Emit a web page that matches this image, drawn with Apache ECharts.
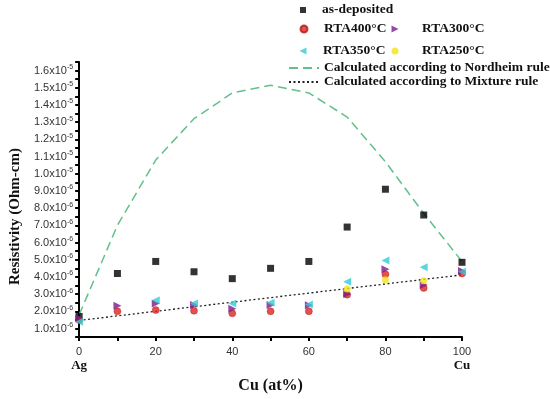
<!DOCTYPE html>
<html><head><meta charset="utf-8">
<script src="https://cdn.jsdelivr.net/npm/echarts@6/dist/echarts.min.js"></script>
<style>html,body{margin:0;padding:0;background:#fff}#c{width:550px;height:399px}</style>
</head><body><div id="c"></div>
<script>
// values in units of 1e-6 Ohm-cm
const cuAt = [0, 10, 20, 30, 40, 50, 60, 70, 80, 90, 100];
const asDeposited = [1.7, 4.2, 4.9, 4.3, 3.9, 4.5, 4.9, 6.9, 9.1, 7.6, 4.85];
const rta400 = [1.5, 2.0, 2.07, 2.03, 1.88, 2.0, 2.0, 2.97, 4.15, 3.36, 4.2];
const rta300 = [1.6, 2.33, 2.46, 2.37, 2.15, 2.37, 2.35, 3.0, 4.45, 3.53, 4.35];
const rta350 = [1.4, null, 2.65, 2.46, 2.46, 2.5, 2.4, 3.72, 4.96, 4.56, 4.3];
const rta250 = [null, null, null, null, null, null, null, 3.3, 3.83, 3.78, null];
const nordheim = [1.8, 7.0, 10.8, 13.2, 14.7, 15.15, 14.7, 13.3, 10.7, 7.7, 4.9];
const mixtureX = [0, 100];
const mixture = [1.47, 4.12];
const yTickLabels = [1,2,3,4,5,6,7,8,9,10,11,12,13,14,15,16];

const pairs = (xs, ys) => xs.map((x, i) => ys[i] == null ? null : [x, ys[i]]).filter(d => d);
const serif = 'Liberation Serif';
const lt = pad => ({fontFamily: serif, fontWeight: 'bold', fontSize: 13.5, color: '#111', lineHeight: 14, padding: [0, 0, 0, pad]});

function yFmt(v) {
  const r = Math.round(v);
  if (Math.abs(v - r) > 0.01 || yTickLabels.indexOf(r) < 0) return '';
  if (r >= 10) return '{n|' + (r / 10).toFixed(1) + 'x10}{s|-5}';
  return '{n|' + r.toFixed(1) + 'x10}{s|-6}';
}

const chart = echarts.init(document.getElementById('c'), null, {renderer: 'canvas'});
chart.setOption({
  animation: false,
  backgroundColor: '#fff',
  grid: {left: 79, right: 88, top: 62, bottom: 53, containLabel: false},
  legend: [
    {left: 300, top: 3, padding: 0, itemWidth: 6, itemHeight: 6, textStyle: lt(11),
     data: [{name: 'as-deposited', icon: 'rect'}]},
    {left: 299.5, top: 22, padding: 0, itemWidth: 7, itemHeight: 7, textStyle: lt(11.5),
     data: [{name: 'RTA400°C', icon: 'circle'}]},
    {left: 391.5, top: 22, padding: 0, itemWidth: 7, itemHeight: 8, textStyle: lt(18.5),
     data: [{name: 'RTA300°C', icon: 'path://M0,0L10,5L0,10Z'}]},
    {left: 299.5, top: 44, padding: 0, itemWidth: 7, itemHeight: 8, textStyle: lt(11.5),
     data: [{name: 'RTA350°C', icon: 'path://M10,0L0,5L10,10Z'}]},
    {left: 391.5, top: 44, padding: 0, itemWidth: 7, itemHeight: 7, textStyle: lt(18.5),
     data: [{name: 'RTA250°C', icon: 'circle'}]},
    {left: 288, top: 61, padding: 0, itemWidth: 30, itemHeight: 12, textStyle: lt(0), orient: 'vertical', itemGap: 0,
     itemStyle: {opacity: 0},
     data: ['Calculated according to Nordheim rule', 'Calculated according to Mixture rule']}
  ],
  xAxis: {
    type: 'value', min: 0, max: 100, interval: 20,
    name: 'Cu (at%)', nameLocation: 'middle', nameGap: 33,
    nameTextStyle: {fontFamily: serif, fontWeight: 'bold', fontSize: 16, color: '#111'},
    axisLine: {lineStyle: {color: '#000', width: 2}},
    axisTick: {show: true, length: 4, lineStyle: {color: '#000', width: 2}},
    minorTick: {show: true, splitNumber: 2, length: 4, lineStyle: {color: '#000', width: 2}},
    splitLine: {show: false},
    axisLabel: {
      margin: 8, fontFamily: 'Liberation Sans', fontSize: 11, color: '#333', lineHeight: 14,
      formatter: v => v === 0 ? '0\n{b|Ag}' : (v === 100 ? '100\n{b|Cu}' : String(v)),
      rich: {b: {fontFamily: serif, fontWeight: 'bold', fontSize: 13, color: '#111', lineHeight: 14}}
    }
  },
  yAxis: {
    type: 'value', min: 0.5, max: 16.5, interval: 0.5,
    name: 'Resistivity (Ohm-cm)', nameLocation: 'middle', nameGap: 48, nameRotate: 90,
    nameTextStyle: {fontFamily: serif, fontWeight: 'bold', fontSize: 15, color: '#111', padding: [0, 34, 0, 0]},
    axisLine: {show: true, lineStyle: {color: '#000', width: 2}},
    axisTick: {show: true, length: 4, lineStyle: {color: '#000', width: 2}},
    splitLine: {show: false},
    axisLabel: {
      margin: 6, formatter: yFmt,
      rich: {
        n: {fontFamily: 'Liberation Sans', fontSize: 11, color: '#333', lineHeight: 14},
        s: {fontFamily: 'Liberation Sans', fontSize: 7, color: '#333', lineHeight: 7, verticalAlign: 'top'}
      }
    }
  },
  series: [
    {name: 'Calculated according to Nordheim rule', type: 'line', symbol: 'none', smooth: false,
     data: pairs(cuAt, nordheim), lineStyle: {color: '#62c08a', width: 1.5, type: [9, 5]},
     itemStyle: {color: '#62c08a'}, z: 1},
    {name: 'Calculated according to Mixture rule', type: 'line', symbol: 'none',
     data: pairs(mixtureX, mixture), lineStyle: {color: '#222', width: 1.3, type: [2, 2.5]},
     itemStyle: {color: '#222'}, z: 1},
    {name: 'as-deposited', type: 'scatter', symbol: 'rect', symbolSize: 7,
     data: pairs(cuAt, asDeposited), itemStyle: {color: '#000'}, z: 2},
    {name: 'RTA400°C', type: 'scatter', symbol: 'circle', symbolSize: 7,
     data: pairs(cuAt, rta400), itemStyle: {color: '#e0231e', borderColor: '#b01818', borderWidth: 0.5}, z: 3},
    {name: 'RTA300°C', type: 'scatter', symbol: 'triangle', symbolRotate: -90, symbolSize: 8,
     data: pairs(cuAt, rta300), itemStyle: {color: '#7a1a8c'}, z: 4},
    {name: 'RTA350°C', type: 'scatter', symbol: 'triangle', symbolRotate: 90, symbolSize: 8,
     data: pairs(cuAt, rta350), itemStyle: {color: '#33ccd6'}, z: 5},
    {name: 'RTA250°C', type: 'scatter', symbol: 'circle', symbolSize: 7,
     data: pairs(cuAt, rta250), itemStyle: {color: '#f2e41a'}, z: 6}
  ]
});
</script></body></html>
